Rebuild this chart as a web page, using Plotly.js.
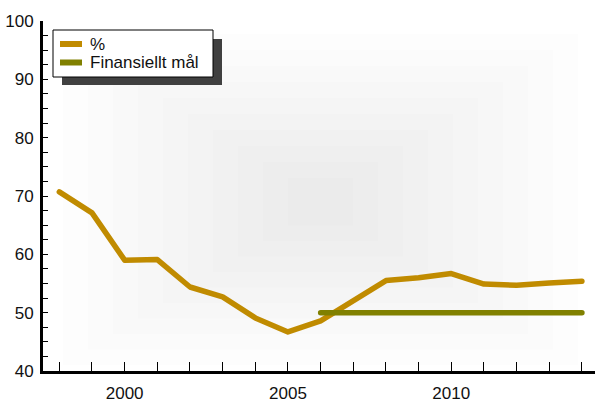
<!DOCTYPE html>
<html><head><meta charset="utf-8">
<script src="https://cdn.plot.ly/plotly-3.0.1.min.js"></script>
<style>body{margin:0;padding:0;background:#fff}#chart{width:595px;height:405px}
.scatterlayer path.js-line{stroke-linecap:round;stroke-linejoin:round}</style>
</head><body><div id="chart"></div>
<script>
const years = [1998,1999,2000,2001,2002,2003,2004,2005,2006,2007,2008,2009,2010,2011,2012,2013,2014];
const pct = [70.7,67.1,59.0,59.1,54.4,52.7,49.1,46.7,48.6,52.0,55.5,56.0,56.7,54.9,54.7,55.1,55.4];
const goalYears = [2006,2014];
const goalVals = [50,50];
const seriesNames = ['%','Finansiellt mål'];
const seriesColors = ['#c08b00','#808000'];

// pixel helpers for decoration (plot area: x 43..595, y 21..371)
const PX = p => (p - 43) / 552;
const PY = p => (371 - p) / 350;

const shapes = [];
const n = 10;
for (let i = 0; i < n; i++) {
  const f = i / n;
  shapes.push({type:'rect', xref:'paper', yref:'paper', layer:'below',
    x0: PX(63 + f*250), x1: PX(578 - f*250), y0: PY(365 - f*155), y1: PY(34 + f*160),
    fillcolor:'rgba(0,0,0,0.009)', line:{width:0}});
}
// custom legend: shadow, box, samples
shapes.push({type:'rect', xref:'paper', yref:'paper', x0:PX(62), x1:PX(222), y0:PY(85), y1:PY(39),
  fillcolor:'#404040', line:{width:0}});
shapes.push({type:'rect', xref:'paper', yref:'paper', x0:PX(53), x1:PX(213), y0:PY(77), y1:PY(30),
  fillcolor:'#ffffff', line:{color:'#000', width:1}});
const rowY = [44, 62.5];
const annotations = [];
seriesNames.forEach((nm, i) => {
  shapes.push({type:'line', xref:'paper', yref:'paper', x0:PX(60), x1:PX(82), y0:PY(rowY[i]), y1:PY(rowY[i]),
    line:{color:seriesColors[i], width:6}});
  annotations.push({xref:'paper', yref:'paper', x:PX(88), y:PY(rowY[i]), xanchor:'left', yanchor:'middle',
    text:nm, showarrow:false, font:{size:17, color:'#111'}});
});

const data = [
  {x: years, y: pct, name: seriesNames[0], mode:'lines', line:{color:seriesColors[0], width:5.5}},
  {x: goalYears, y: goalVals, name: seriesNames[1], mode:'lines', line:{color:seriesColors[1], width:5.5}}
];
const layout = {
  width:595, height:405,
  margin:{l:43, r:0, t:21, b:34},
  paper_bgcolor:'#fff', plot_bgcolor:'rgba(0,0,0,0)',
  font:{family:'Liberation Sans, Arial, sans-serif', size:17, color:'#111'},
  showlegend:false,
  xaxis:{range:[1997.5,2014.4], showgrid:false, zeroline:false, showline:true, linecolor:'#000', linewidth:3,
    tickmode:'linear', tick0:2000, dtick:5, ticks:'inside', ticklen:9, tickcolor:'#000', tickwidth:1,
    minor:{dtick:1, tick0:1998, ticks:'inside', ticklen:9, tickcolor:'#000', tickwidth:1},
    ticklabelstandoff:5, tickfont:{size:17}},
  yaxis:{range:[40,100], showgrid:false, zeroline:false, showline:true, linecolor:'#000', linewidth:3,
    tickmode:'linear', tick0:40, dtick:10, ticks:'inside', ticklen:5, tickcolor:'#000', tickwidth:1,
    minor:{dtick:2.5, tick0:40, ticks:'inside', ticklen:5, tickcolor:'#000', tickwidth:1},
    ticklabelstandoff:3, tickfont:{size:17}},
  shapes: shapes,
  annotations: annotations
};
Plotly.newPlot('chart', data, layout, {displayModeBar:false});
</script></body></html>
